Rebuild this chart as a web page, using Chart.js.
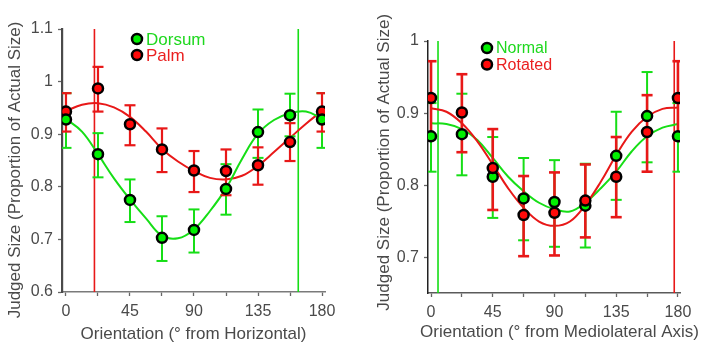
<!DOCTYPE html>
<html><head><meta charset="utf-8">
<script src="https://cdn.jsdelivr.net/npm/chart.js@4.4.1/dist/chart.umd.min.js"></script>
<style>
html,body{margin:0;padding:0;background:#fff;}
#wrap{position:relative;width:703px;height:357px;overflow:hidden;background:#fff;}
canvas{position:absolute;top:0;}
</style></head><body>
<div id="wrap">
<canvas id="c1" width="352" height="357" style="left:0"></canvas>
<canvas id="c2" width="351" height="357" style="left:352px"></canvas>
</div>
<script>
// ---------- shared ----------
const orientations = [0, 22.5, 45, 67.5, 90, 112.5, 135, 157.5, 180];
const fitAngles = [0, 11.25, 22.5, 33.75, 45, 56.25, 67.5, 78.75, 90, 101.25, 112.5, 123.75, 135, 146.25, 157.5, 168.75, 180];
const xTickValues = [0, 22.5, 45, 67.5, 90, 112.5, 135, 157.5, 180];

// ---------- left panel: Dorsum vs Palm ----------
const dorsumMean = [0.928, 0.862, 0.775, 0.703, 0.718, 0.796, 0.904, 0.936, 0.928];
const dorsumLow  = [0.874, 0.818, 0.733, 0.659, 0.675, 0.747, 0.855, 0.896, 0.874];
const dorsumHigh = [0.978, 0.902, 0.814, 0.744, 0.757, 0.843, 0.947, 0.977, 0.978];
const palmMean = [0.943, 0.987, 0.919, 0.871, 0.831, 0.830, 0.841, 0.885, 0.943];
const palmLow  = [0.905, 0.943, 0.879, 0.828, 0.790, 0.784, 0.804, 0.849, 0.905];
const palmHigh = [0.978, 1.028, 0.955, 0.911, 0.868, 0.871, 0.875, 0.921, 0.978];
const dorsumFit = [0.929, 0.905, 0.862, 0.816, 0.776, 0.740, 0.707, 0.702, 0.719, 0.754, 0.797, 0.853, 0.901, 0.927, 0.940, 0.943, 0.930];
const palmFit   = [0.944, 0.956, 0.959, 0.951, 0.933, 0.905, 0.872, 0.848, 0.830, 0.817, 0.814, 0.821, 0.840, 0.866, 0.893, 0.920, 0.944];
const dorsumPeak = 163.3;
const palmPeak = 20;
const yTicksLeft = [0.6, 0.7, 0.8, 0.9, 1.0, 1.1];

// ---------- right panel: Normal vs Rotated ----------
const normalMean = [0.868, 0.871, 0.812, 0.782, 0.777, 0.772, 0.841, 0.896, 0.868];
const normalLow  = [0.819, 0.814, 0.755, 0.724, 0.715, 0.714, 0.780, 0.832, 0.819];
const normalHigh = [0.914, 0.927, 0.867, 0.838, 0.835, 0.830, 0.902, 0.957, 0.914];
const rotatedMean = [0.921, 0.901, 0.824, 0.759, 0.762, 0.779, 0.812, 0.874, 0.921];
const rotatedLow  = [0.868, 0.846, 0.766, 0.702, 0.703, 0.728, 0.756, 0.819, 0.868];
const rotatedHigh = [0.972, 0.954, 0.878, 0.813, 0.818, 0.829, 0.867, 0.925, 0.972];
const normalFit  = [0.886, 0.885, 0.878, 0.863, 0.838, 0.812, 0.792, 0.776, 0.767, 0.764, 0.776, 0.796, 0.819, 0.847, 0.868, 0.880, 0.885];
const rotatedFit = [0.907, 0.902, 0.886, 0.861, 0.829, 0.796, 0.769, 0.750, 0.744, 0.750, 0.773, 0.805, 0.842, 0.874, 0.895, 0.906, 0.908];
const normalPeak = 5.1;
const rotatedPeak = 177.3;
const yTicksRight = [0.7, 0.8, 0.9, 1.0];

// ---------- styling ----------
const GREEN_LINE = '#16de16', GREEN_FILL = '#00f000', GREEN_TEXT = '#1ed81e';
const RED_LINE = '#e81818', RED_FILL = '#ff0a0a', RED_TEXT = '#ea2020';
const FONT = "'Liberation Sans', Arial, Helvetica, sans-serif";
const AXIS_TEXT = '#4a4a4a';
Chart.defaults.font.family = FONT;

const pts = (xs, ys) => xs.map((x, i) => ({x, y: ys[i]}));
function errData(xs, lo, hi) {
  const d = [];
  xs.forEach((x, i) => { d.push({x, y: lo[i]}, {x, y: hi[i]}, {x, y: null}); });
  return d;
}
function errSet(xs, lo, hi, color, order, w) {
  return {data: errData(xs, lo, hi), showLine: true, spanGaps: false, borderColor: color, borderWidth: w,
    pointStyle: 'line', pointRadius: 5.5, pointHoverRadius: 5.5, pointBorderColor: color, pointBorderWidth: w,
    order};
}
function meanSet(xs, ys, fill, order) {
  return {data: pts(xs, ys), showLine: false, pointStyle: 'circle', pointRadius: 5, pointHoverRadius: 5,
    pointBackgroundColor: fill, pointBorderColor: '#000', pointBorderWidth: 2.5, order};
}
function fitSet(xs, ys, color, order) {
  return {data: pts(xs, ys), showLine: true, borderColor: color, borderWidth: 2, tension: 0.4,
    pointRadius: 0, order};
}
function peakSet(x, ymin, ymax, color, order) {
  return {data: [{x, y: ymin}, {x, y: ymax}], showLine: true, borderColor: color, borderWidth: 1.6,
    pointRadius: 0, order};
}

const inLegend = {
  id: 'inLegend',
  afterDatasetsDraw(chart, args, o) {
    const ctx = chart.ctx;
    ctx.save();
    o.items.forEach((it, i) => {
      const y = o.y + i * o.gap;
      ctx.beginPath();
      ctx.arc(o.x, y, 5, 0, Math.PI * 2);
      ctx.fillStyle = it.fill; ctx.fill();
      ctx.lineWidth = 2.5; ctx.strokeStyle = '#000'; ctx.stroke();
      ctx.font = o.size + 'px ' + FONT;
      ctx.fillStyle = it.color;
      ctx.textBaseline = 'middle';
      ctx.textAlign = 'left';
      ctx.fillText(it.label, o.x + 9, y + 1);
    });
    ctx.restore();
  }
};

// free-width x-axis title (the right panel's title is wider than its plot area)
const wideTitle = {
  id: 'wideTitle',
  afterDraw(chart, args, o) {
    if (!o || !o.text) return;
    const ctx = chart.ctx;
    ctx.save();
    ctx.font = o.size + 'px ' + FONT;
    ctx.fillStyle = AXIS_TEXT;
    ctx.textAlign = 'center';
    ctx.textBaseline = 'middle';
    ctx.fillText(o.text, o.x, o.y);
    ctx.restore();
  }
};

function makeChart(id, cfg) {
  const yt = cfg.yTicks;
  return new Chart(document.getElementById(id), {
    type: 'scatter',
    data: {datasets: cfg.datasets},
    options: {
      responsive: false, animation: false, events: [],
      layout: {padding: cfg.padding},
      plugins: {legend: {display: false}, tooltip: {enabled: false}, inLegend: cfg.legend,
        wideTitle: cfg.wideTitle || {}},
      scales: {
        x: {
          type: 'linear', min: cfg.xMin, max: cfg.xMax,
          afterBuildTicks: s => { s.ticks = xTickValues.map(v => ({value: v})); },
          afterFit: s => { s.height = cfg.xHeight; s.paddingLeft = 0; s.paddingRight = 0; },
          ticks: {autoSkip: false, maxRotation: 0, minRotation: 0, padding: 6, color: AXIS_TEXT,
            font: {size: 16}, callback: v => (v % 45 === 0 ? String(v) : '')},
          grid: {display: true, drawOnChartArea: false, drawTicks: true, tickLength: 4,
            tickColor: '#666', tickWidth: 1.3},
          border: {display: true, color: cfg.xBorder, width: 1.5},
          title: {display: !!cfg.xTitle, text: cfg.xTitle || '', color: AXIS_TEXT, font: {size: 17},
            padding: {top: 0, bottom: 12}}
        },
        y: {
          type: 'linear', min: cfg.yMin, max: cfg.yMax,
          afterBuildTicks: s => { s.ticks = yt.map(v => ({value: v})); },
          afterFit: s => { s.width = cfg.yWidth; s.paddingTop = 0; s.paddingBottom = 0; },
          ticks: {autoSkip: false, padding: 5, color: AXIS_TEXT, font: {size: 16},
            callback: v => String(Math.round(v * 10) / 10)},
          grid: {display: true, drawOnChartArea: false, drawTicks: true, tickLength: 4,
            tickColor: '#666', tickWidth: 1.3},
          border: {display: true, color: cfg.yBorder, width: cfg.yBorderWidth},
          title: {display: true, text: cfg.yTitle, color: AXIS_TEXT, font: {size: 17},
            padding: {top: cfg.yTitlePad, bottom: 0}}
        }
      }
    },
    plugins: [inLegend, wideTitle]
  });
}

makeChart('c1', {
  padding: {left: 0, top: 29, right: 27, bottom: 0},
  xMin: -2.8, xMax: 182.1, yMin: 0.6, yMax: 1.1, yTicks: yTicksLeft,
  xHeight: 65, yWidth: 62, yTitlePad: 5,
  xBorder: '#7a7a7a', yBorder: '#4a4a4a', yBorderWidth: 2.2,
  xTitle: 'Orientation (° from Horizontal)',
  yTitle: 'Judged Size (Proportion of Actual Size)    ',
  legend: {x: 137, y: 39, gap: 16, size: 17, items: [
    {label: 'Dorsum', color: GREEN_TEXT, fill: GREEN_FILL},
    {label: 'Palm', color: RED_TEXT, fill: RED_FILL}]},
  datasets: [
    meanSet(orientations, dorsumMean, GREEN_FILL, 0),
    meanSet(orientations, palmMean, RED_FILL, 1),
    errSet(orientations, palmLow, palmHigh, RED_LINE, 2, 2.2),
    errSet(orientations, dorsumLow, dorsumHigh, GREEN_LINE, 3, 2),
    fitSet(fitAngles, dorsumFit, GREEN_LINE, 4),
    fitSet(fitAngles, palmFit, RED_LINE, 5),
    peakSet(dorsumPeak, 0.6, 1.1, GREEN_LINE, 6),
    peakSet(palmPeak, 0.6, 1.1, RED_LINE, 7)
  ]
});

makeChart('c2', {
  padding: {left: 0, top: 41, right: 23, bottom: 0},
  xMin: -2.2, xMax: 181.5, yMin: 0.651, yMax: 1.0, yTicks: yTicksRight,
  xHeight: 64, yWidth: 76, yTitlePad: 22,
  xBorder: '#5a5a5a', yBorder: '#222', yBorderWidth: 1.5,
  xTitle: null,
  wideTitle: {text: 'Orientation (° from Mediolateral Axis)', x: 207.5, y: 332, size: 17},
  yTitle: '  Judged Size (Proportion of Actual Size)',
  legend: {x: 135, y: 48, gap: 16.5, size: 16, items: [
    {label: 'Normal', color: GREEN_TEXT, fill: GREEN_FILL},
    {label: 'Rotated', color: RED_TEXT, fill: RED_FILL}]},
  datasets: [
    meanSet(orientations, rotatedMean, RED_FILL, 0),
    meanSet(orientations, normalMean, GREEN_FILL, 1),
    errSet(orientations, rotatedLow, rotatedHigh, RED_LINE, 2, 2.6),
    errSet(orientations, normalLow, normalHigh, GREEN_LINE, 3, 2),
    fitSet(fitAngles, rotatedFit, RED_LINE, 4),
    fitSet(fitAngles, normalFit, GREEN_LINE, 5),
    peakSet(rotatedPeak, 0.651, 1.0, RED_LINE, 6),
    peakSet(normalPeak, 0.651, 1.0, GREEN_LINE, 7)
  ]
});
</script>
</body></html>
